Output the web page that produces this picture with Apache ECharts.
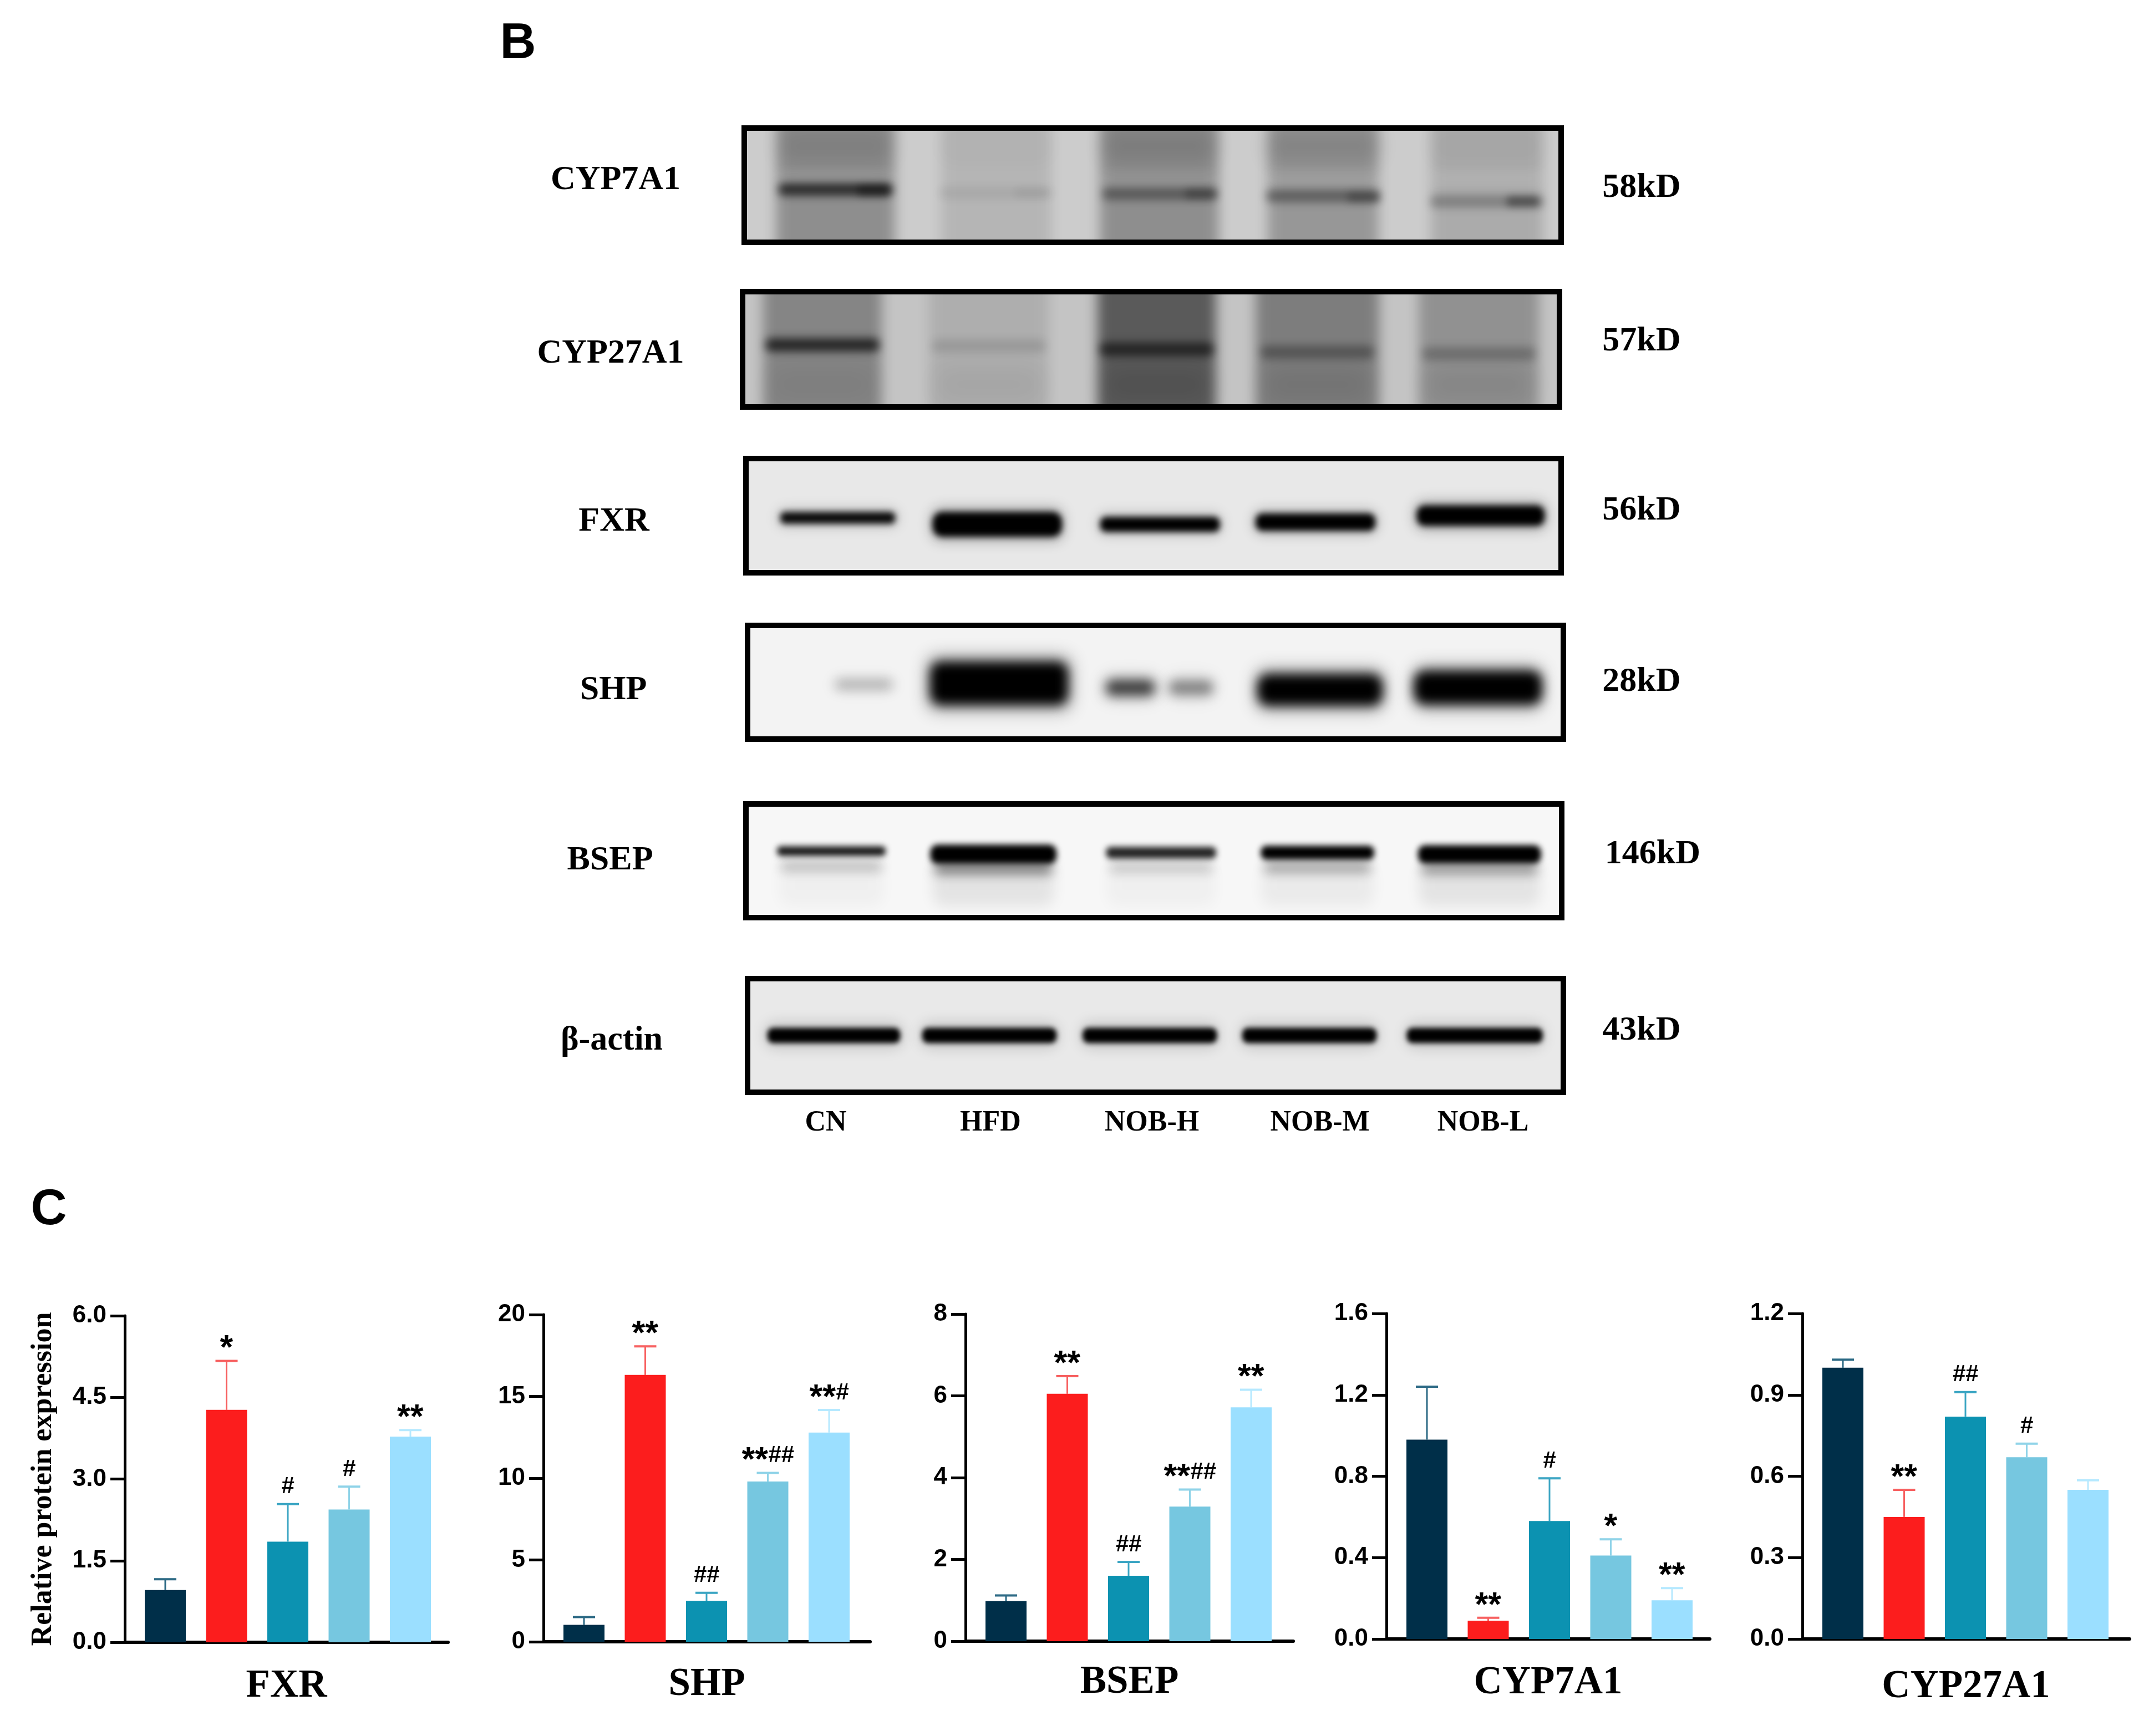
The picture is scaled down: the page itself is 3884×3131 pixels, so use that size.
<!DOCTYPE html>
<html>
<head>
<meta charset="utf-8">
<style>
  html, body { margin: 0; padding: 0; background: #fff; }
  #chart { width: 3884px; height: 3131px; }
</style>
<script src="https://cdn.jsdelivr.net/npm/echarts@6/dist/echarts.min.js"></script>
</head>
<body>
<div id="chart"></div>
<script>
// Bar chart data
const groups = ['CN', 'HFD', 'NOB-H', 'NOB-M', 'NOB-L'];
const proteins = ['FXR', 'SHP', 'BSEP', 'CYP7A1', 'CYP27A1'];

const fxrMean = [0.96, 4.27, 1.85, 2.44, 3.78];
const fxrTop = [1.16, 5.17, 2.54, 2.86, 3.9];
const fxrMarks = ['', '*', '#', '#', '**'];
const fxrTicks = ['0.0', '1.5', '3.0', '4.5', '6.0'];

const shpMean = [1.03, 16.31, 2.5, 9.8, 12.79];
const shpTop = [1.51, 18.06, 2.99, 10.32, 14.17];
const shpMarks = ['', '**', '##', '**##', '**#'];
const shpTicks = ['0', '5', '10', '15', '20'];

const bsepMean = [0.98, 6.05, 1.6, 3.29, 5.72];
const bsepTop = [1.12, 6.48, 1.94, 3.71, 6.15];
const bsepMarks = ['', '**', '##', '**##', '**'];
const bsepTicks = ['0', '2', '4', '6', '8'];

const cyp7a1Mean = [0.98, 0.09, 0.58, 0.41, 0.19];
const cyp7a1Top = [1.24, 0.104, 0.79, 0.49, 0.25];
const cyp7a1Marks = ['', '**', '#', '*', '**'];
const cyp7a1Ticks = ['0.0', '0.4', '0.8', '1.2', '1.6'];

const cyp27a1Mean = [1.0, 0.45, 0.82, 0.67, 0.55];
const cyp27a1Top = [1.03, 0.55, 0.91, 0.72, 0.585];
const cyp27a1Marks = ['', '**', '##', '#', ''];
const cyp27a1Ticks = ['0.0', '0.3', '0.6', '0.9', '1.2'];

const means = [fxrMean, shpMean, bsepMean, cyp7a1Mean, cyp27a1Mean];
const tops = [fxrTop, shpTop, bsepTop, cyp7a1Top, cyp27a1Top];
const marks = [fxrMarks, shpMarks, bsepMarks, cyp7a1Marks, cyp27a1Marks];
const ticks = [fxrTicks, shpTicks, bsepTicks, cyp7a1Ticks, cyp27a1Ticks];

// Blot labels and band densities per lane (0 = nothing, 1 = black, below 0 = lighter)
const blotNames = ['CYP7A1', 'CYP27A1', 'FXR', 'SHP', 'BSEP', 'β-actin'];
const blotWeights = ['58kD', '57kD', '56kD', '28kD', '146kD', '43kD'];

const cyp7a1Tone = [0.3, 0.11, 0.3, 0.26, 0.16];
const cyp7a1Upper = [0.1, 0.02, 0.12, 0.12, 0.03];
const cyp7a1Notch = [-0.14, 0, -0.1, -0.14, -0.14];
const cyp7a1Band = [0.72, 0.07, 0.38, 0.38, 0.26];
const cyp7a1Ends = [0.4, 0.05, 0.25, 0.25, 0.4];

const cyp27a1Tone = [0.32, 0.11, 0.54, 0.36, 0.26];
const cyp27a1Lower = [0.05, 0.05, 0.1, 0.08, 0.08];
const cyp27a1Band = [0.72, 0.12, 0.6, 0.32, 0.24];

const fxrBand = [0.95, 1, 1, 1, 1];
const fxrHalo = [0.15, 0.25, 0.15, 0.2, 0.25];

const shpBand = [0.24, 1, 0.7, 0.42, 1, 1];
const shpHalo = [0.05, 0.3, 0.14, 0.1, 0.3, 0.3];

const bsepBand = [0.9, 1, 0.85, 1, 1];
const bsepTail = [0.22, 0.5, 0.18, 0.32, 0.38];
const bsepSmear = [0.03, 0.08, 0.03, 0.05, 0.08];

const actinBand = [1, 1, 1, 1, 1];
const actinHalo = [0.15, 0.15, 0.15, 0.15, 0.15];

// Layout
const barStep = 110.5;
const barLead = 73;
const barWidth = 74;
const chartLeft = [225, 980, 1741, 2500, 3250];
const chartRight = [808, 1569, 2332, 3083, 3840];
const chartTop = [2373, 2371, 2370, 2369, 2369];
const chartBottom = [2962, 2961, 2960, 2956, 2956];
const titleGap = [44, 42, 39, 44, 51];
const barColors = ['#002f49', '#fc1d1d', '#0c92b1', '#76c7e0', '#9bdfff'];
const errColors = ['#2d6a85', '#f76060', '#3ba5c3', '#8fd3e8', '#b6e9ff'];

const serif = '"Liberation Serif", "Times New Roman", serif';
const sans = '"Liberation Sans", Arial, sans-serif';

// outer box of each blot: left, top, right, bottom
const blotBox = [
  [1337, 226, 2820, 442],
  [1334, 521, 2817, 739],
  [1340, 822, 2820, 1038],
  [1343, 1123, 2824, 1338],
  [1340, 1445, 2821, 1660],
  [1343, 1760, 2824, 1975],
];
const blotPaper = ['#cccccc', '#c4c4c4', '#e8e8e8', '#f3f3f3', '#f7f7f7', '#e9e9e9'];

const blotLabelPos = [[1110, 325], [1101, 638], [1107, 941], [1106, 1245], [1100, 1552], [1103, 1877]];
const blotWeightPos = [[2960, 339], [2960, 616], [2960, 921], [2960, 1230], [2980, 1541], [2960, 1859]];
const laneLabelX = [1489, 1786, 2077, 2380, 2674];

// band geometry in % of the blot box
function row(density, x, w, y, h, blur) {
  return density.map((d, i) => [
    x[i],
    Array.isArray(y) ? y[i] : y,
    Array.isArray(w) ? w[i] : w,
    Array.isArray(h) ? h[i] : h,
    d,
    blur,
  ]);
}

const lanes0 = [10.9, 30.7, 50.8, 71, 91.2];
const ends0 = [15.6, 35, 56, 76, 95.6];
const lanes1 = [9.5, 30, 50.7, 70.5, 90.4];
const lanes2 = [11, 30.7, 50.8, 70, 90.4];
const lanes3 = [14, 30.7, 46.9, 54.4, 70.3, 89.8];
const lanes4 = [10.2, 30.2, 50.9, 70.2, 90.2];
const lanes5 = [10.3, 29.5, 49.3, 69, 89.4];

const blotRows = [
  [
    ...row(cyp7a1Tone, lanes0, [14.6, 13.6, 14.6, 13.6, 13.8], 50, 140, 22),
    ...row(cyp7a1Upper, lanes0, 14, 14, 32, 34),
    ...row(cyp7a1Notch, lanes0, 14.4, 44, 8, 26),
    ...row(cyp7a1Band, lanes0, 14, [54, 57, 58, 60, 65], 11, 16),
    ...row(cyp7a1Ends, ends0, 4, [55, 57, 58, 61, 65], 9, 14),
  ],
  [
    ...row(cyp27a1Tone, lanes1, [14.6, 14.8, 14.6, 15.2, 14.8], 50, 140, 22),
    ...row(cyp27a1Lower, lanes1, 13, 82, 30, 40),
    ...row(cyp27a1Band, lanes1, 14, [46, 47, 50, 52.6, 54], 12, 16),
  ],
  [
    ...row(fxrHalo, lanes2, [15, 16.5, 15.5, 15.5, 16.5], [52, 58, 58, 56, 50], [18, 32, 22, 24, 28], 22),
    ...row(fxrBand, lanes2, [14.2, 16, 14.8, 14.8, 15.8], [52, 58, 58, 56, 50], [11, 23, 14, 16, 19], 12),
  ],
  [
    ...row(shpHalo, lanes3, [8, 18, 7, 6, 16, 16], [52, 51, 55, 55, 57, 55], [14, 52, 24, 22, 40, 42], 30),
    ...row(shpBand, lanes3, [7, 17, 6, 5.4, 15.4, 15.8], [52, 51, 55, 55, 57, 55], [10, 40, 15, 13, 29, 31], 20),
  ],
  [
    ...row(bsepSmear, lanes4, [13, 15, 13.5, 14, 15], 72, 40, 24),
    ...row(bsepTail, lanes4, [12.6, 14.6, 12.8, 13.2, 14.4], [55, 57, 56, 56, 57], 10, 20),
    ...row(bsepBand, lanes4, [13.4, 15.6, 13.6, 14, 15.2], [41, 44, 42.5, 42.5, 44], [9, 18, 11, 13, 17], 11),
  ],
  [
    ...row(actinHalo, lanes5, 17, 50, 24, 24),
    ...row(actinBand, lanes5, [16.4, 16.6, 16.6, 16.6, 16.8], 50, 14, 10),
  ],
];

const offscreen = 6000;

// soft band: the rect sits off the canvas, only its blurred shadow lands in the blot
function renderBand(params, api) {
  if (params.dataIndex === 0) {
    const tl = api.coord([0, 0]);
    const br = api.coord([100, 100]);
    return {
      type: 'rect',
      shape: { x: tl[0], y: tl[1], width: br[0] - tl[0], height: br[1] - tl[1] },
      style: { fill: blotPaper[params.seriesIndex - proteins.length * 2] },
    };
  }
  const c = api.coord([api.value(0), api.value(1)]);
  const s = api.size([api.value(2), api.value(3)]);
  const d = api.value(4);
  return {
    type: 'rect',
    shape: {
      x: c[0] - s[0] / 2 - offscreen,
      y: c[1] - s[1] / 2,
      width: s[0],
      height: s[1],
      r: Math.min(s[1] * 0.4, 20),
    },
    style: {
      fill: '#000',
      shadowBlur: api.value(5),
      shadowColor: d < 0 ? 'rgba(255,255,255,' + -d + ')' : 'rgba(0,0,0,' + d + ')',
      shadowOffsetX: offscreen,
    },
  };
}

// whisker, cap and significance marks above one bar
function renderError(chart, params, api) {
  const i = api.value(0);
  const base = api.coord([i, api.value(1)]);
  const top = api.coord([i, api.value(2)]);
  const color = errColors[i];
  const children = [
    { type: 'line', shape: { x1: base[0], y1: base[1], x2: top[0], y2: top[1] }, style: { stroke: color, lineWidth: 3 } },
    { type: 'line', shape: { x1: top[0] - 20, y1: top[1], x2: top[0] + 20, y2: top[1] }, style: { stroke: color, lineWidth: 4 } },
  ];
  const mark = marks[chart][i];
  if (mark) {
    const stars = mark.replace(/#/g, '');
    const hashes = mark.replace(/\*/g, '');
    let x = top[0] - (stars.length * 24 + hashes.length * 23) / 2;
    const y = top[1] - 31;
    if (stars) {
      children.push({
        type: 'text',
        style: { text: stars, x, y: y + 10, font: 'bold 61px ' + sans, fill: '#000', textAlign: 'left', textVerticalAlign: 'middle' },
      });
      x += stars.length * 24;
    }
    if (hashes) {
      children.push({
        type: 'text',
        style: { text: hashes, x, y, font: 'bold 42px ' + sans, fill: '#000', textAlign: 'left', textVerticalAlign: 'middle' },
      });
    }
  }
  return { type: 'group', children };
}

const grids = [];
const xAxes = [];
const yAxes = [];
const series = [];

proteins.forEach((name, c) => {
  const left = chartLeft[c];
  const width = chartRight[c] - left;
  grids.push({
    left,
    top: chartTop[c],
    width,
    height: chartBottom[c] - chartTop[c],
  });
  xAxes.push({
    type: 'value',
    gridIndex: c,
    min: -barLead / barStep,
    max: (width - barLead) / barStep,
    name,
    nameLocation: 'middle',
    nameGap: titleGap[c],
    nameTextStyle: { fontFamily: serif, fontWeight: 'bold', fontSize: 71, color: '#000' },
    axisLine: { show: true, onZero: false, lineStyle: { color: '#000', width: 6 } },
    axisTick: { show: false },
    axisLabel: { show: false },
    splitLine: { show: false },
  });
  const labels = ticks[c];
  const top = parseFloat(labels[labels.length - 1]);
  yAxes.push({
    type: 'value',
    gridIndex: c,
    min: 0,
    max: top,
    interval: top / (labels.length - 1),
    name: c === 0 ? 'Relative protein expression' : '',
    nameLocation: 'middle',
    nameGap: 120,
    nameTextStyle: { fontFamily: serif, fontWeight: 'bold', fontSize: 52, color: '#000' },
    axisLine: { show: true, onZero: false, lineStyle: { color: '#000', width: 5 } },
    axisTick: { show: true, inside: false, length: 26, lineStyle: { color: '#000', width: 5 } },
    axisLabel: {
      fontFamily: sans,
      fontWeight: 'bold',
      fontSize: 44,
      color: '#000',
      margin: 33,
      formatter: (v, i) => labels[i],
    },
    splitLine: { show: false },
  });
});

proteins.forEach((name, c) => {
  series.push({
    name,
    type: 'bar',
    xAxisIndex: c,
    yAxisIndex: c,
    barWidth,
    data: groups.map((g, i) => ({
      value: [i, means[c][i]],
      itemStyle: { color: barColors[i] },
    })),
  });
});

proteins.forEach((name, c) => {
  series.push({
    name: name + ' error',
    type: 'custom',
    xAxisIndex: c,
    yAxisIndex: c,
    z: 1,
    renderItem: (params, api) => renderError(c, params, api),
    data: groups.map((g, i) => [i, means[c][i], tops[c][i]]),
  });
});

blotNames.forEach((name, b) => {
  const box = blotBox[b];
  const g = proteins.length + b;
  grids.push({
    left: box[0] + 10,
    top: box[1] + 10,
    width: box[2] - box[0] - 20,
    height: box[3] - box[1] - 20,
    show: true,
    borderWidth: 20,
    borderColor: '#000',
    backgroundColor: blotPaper[b],
  });
  xAxes.push({ type: 'value', gridIndex: g, min: 0, max: 100, show: false });
  yAxes.push({ type: 'value', gridIndex: g, min: 0, max: 100, inverse: true, show: false });
  series.push({
    name,
    type: 'custom',
    xAxisIndex: g,
    yAxisIndex: g,
    clip: true,
    renderItem: renderBand,
    data: [[0, 0, 100, 100, 0, 0], ...blotRows[b]],
  });
});

const textItem = (text, pos, font) => ({
  type: 'text',
  x: pos[0],
  y: pos[1],
  style: { text, font, fill: '#000', textAlign: 'center', textVerticalAlign: 'middle' },
});

const graphicText = [
  textItem('B', [934, 80], 'bold 90px ' + sans),
  textItem('C', [88, 2183], 'bold 90px ' + sans),
  ...blotNames.map((t, i) => textItem(t, blotLabelPos[i], 'bold 62px ' + serif)),
  ...blotWeights.map((t, i) => textItem(t, blotWeightPos[i], 'bold 62px ' + serif)),
  ...groups.map((t, i) => textItem(t, [laneLabelX[i], 2026], 'bold 52px ' + serif)),
];

const myChart = echarts.init(document.getElementById('chart'));
myChart.setOption({
  backgroundColor: '#fff',
  animation: false,
  grid: grids,
  xAxis: xAxes,
  yAxis: yAxes,
  series,
  graphic: { elements: graphicText },
});
</script>
</body>
</html>
